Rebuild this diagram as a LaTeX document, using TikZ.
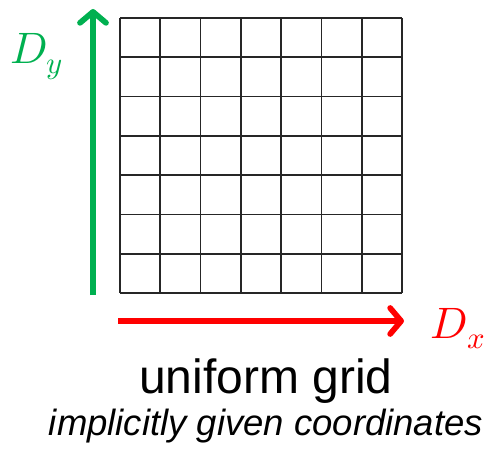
\documentclass[tikz,border=0pt]{standalone}
\usepackage{unicode-math}
\setmainfont{Liberation Sans}
\setmathfont{Latin Modern Math}
\usetikzlibrary{arrows.meta}
\definecolor{axisgreen}{RGB}{0,176,80}
\definecolor{axisred}{RGB}{255,0,0}
\begin{document}
\begin{tikzpicture}[x=1pt,y=-1pt,
  axis/.style={line width=5.7pt,-{Straight Barb[length=11pt,width=26pt,round]}},
  cell/.style={line width=1.8pt,black!85}]
% Define dimensions
\def\xl{120}   % grid left
\def\xr{402}   % grid right
\def\yt{18}    % grid top
\def\yb{293}   % grid bottom
\def\n{7}      % cells per side

\useasboundingbox (0,0) rectangle (487,448);

% Draw grid lines
\foreach \i in {0,...,\n} {
  \draw[cell] ({\xl+\i*(\xr-\xl)/\n},\yt) -- ({\xl+\i*(\xr-\xl)/\n},\yb);
  \draw[cell] (\xl,{\yt+\i*(\yb-\yt)/\n}) -- (\xr,{\yt+\i*(\yb-\yt)/\n});
}

% Axis ends
\coordinate (ybot) at (93,295);
\coordinate (ytop) at (93,9);
\coordinate (xleft) at (118,321);
\coordinate (xright) at (404,321);

% Draw axes
\draw[axis,axisgreen] (ybot) -- (ytop);
\draw[axis,axisred] (xleft) -- (xright);

% Axis labels
\node[anchor=base,axisgreen,font=\fontsize{44}{50}\selectfont] (dy) at (37,63) {$D_y$};
\node[anchor=base,axisred,font=\fontsize{44}{50}\selectfont] (dx) at (458,338) {$D_x$};

% Caption
\node[anchor=base,font=\fontsize{48}{56}\selectfont] (title) at (266,393) {uniform grid};
\node[anchor=base,font=\fontsize{36.5}{44}\selectfont\itshape] (sub) at (266,435) {implicitly given coordinates};

\end{tikzpicture}
\end{document}
